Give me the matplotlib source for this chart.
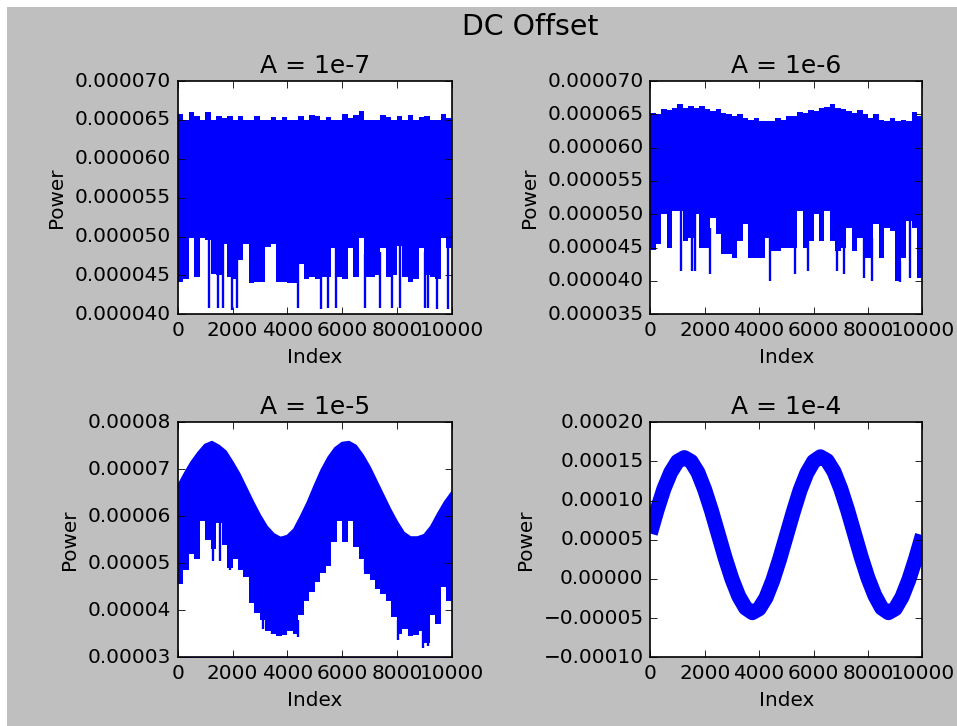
import matplotlib
matplotlib.use("Agg")
import matplotlib.pyplot as plt
import numpy as np
from matplotlib.patches import Rectangle

plt.style.use('classic')

# all power values are in units of the panel's scale (1e-5 or 1e-4)
titles = ["A = 1e-7", "A = 1e-6", "A = 1e-5", "A = 1e-4"]
seg = 200  # width (in index) of one step of the envelope arrays

# panel 1 : A = 1e-7  (units 1e-5)
upper1 = [6.57, 6.5, 6.6, 6.55, 6.5, 6.6, 6.5, 6.55, 6.53, 6.55,
          6.5, 6.55, 6.5, 6.5, 6.55, 6.5, 6.5, 6.54, 6.5, 6.54,
          6.5, 6.5, 6.55, 6.5, 6.56, 6.55, 6.5, 6.54, 6.5, 6.5,
          6.58, 6.52, 6.56, 6.62, 6.5, 6.5, 6.5, 6.56, 6.54, 6.5,
          6.55, 6.5, 6.56, 6.5, 6.54, 6.55, 6.5, 6.5, 6.58, 6.53]
lower1 = [4.42, 4.45, 4.98, 4.48, 4.98, 4.95, 4.52, 4.5, 4.9, 4.48,
          4.45, 4.7, 4.9, 4.4, 4.42, 4.42, 4.87, 4.9, 4.42, 4.42,
          4.4, 4.4, 4.65, 4.45, 4.48, 4.45, 4.48, 4.48, 4.85, 4.48,
          4.45, 4.85, 4.48, 4.98, 4.48, 4.48, 4.5, 4.85, 4.48, 4.5,
          4.88, 4.48, 4.42, 4.45, 4.85, 4.5, 4.48, 4.45, 4.98, 4.85]
spike1_idx = [1156, 1485, 1643, 1972, 2178, 4405, 5221, 5500, 5780,
              6840, 7387, 7813, 8117, 9030, 9152, 9456, 9882]
spike1_val = [4.08, 4.08, 4.08, 4.06, 4.08, 4.08, 4.07, 4.08, 4.08,
              4.08, 4.08, 4.08, 4.08, 4.08, 4.08, 4.07, 4.07]

# panel 2 : A = 1e-6  (units 1e-5)
upper2 = [6.52, 6.5, 6.58, 6.57, 6.6, 6.66, 6.6, 6.62, 6.6, 6.63,
          6.58, 6.55, 6.58, 6.52, 6.5, 6.47, 6.5, 6.45, 6.42, 6.45,
          6.4, 6.4, 6.4, 6.44, 6.42, 6.48, 6.47, 6.53, 6.52, 6.57,
          6.55, 6.6, 6.61, 6.66, 6.6, 6.58, 6.55, 6.52, 6.56, 6.5,
          6.45, 6.5, 6.42, 6.4, 6.44, 6.4, 6.42, 6.4, 6.53, 6.48]
lower2 = [4.46, 4.56, 5.0, 4.5, 5.05, 5.05, 4.6, 4.65, 5.0, 4.5,
          4.5, 4.95, 4.7, 4.4, 4.4, 4.35, 4.6, 4.85, 4.35, 4.35,
          4.35, 4.65, 4.45, 4.45, 4.5, 4.5, 4.5, 5.05, 4.5, 4.6,
          5.0, 4.6, 5.05, 4.6, 4.45, 4.5, 4.8, 4.45, 4.65, 4.35,
          4.35, 4.85, 4.35, 4.8, 4.75, 4.0, 4.35, 4.9, 4.8, 4.05]
spike2_idx = [1127, 1519, 1641, 2193, 4398, 5316, 5806, 6848, 7130,
              7865, 8134, 9175, 9555, 9910]
spike2_val = [4.15, 4.15, 4.15, 4.1, 4.0, 4.1, 4.15, 4.15, 4.1,
              4.05, 4.0, 3.98, 4.05, 4.05]

# panel 3 : A = 1e-5  (units 1e-5), upper edge read every 250 samples
upper3_idx = list(range(0, 10001, 250))
upper3 = [6.63, 6.9, 7.15, 7.35, 7.52, 7.58, 7.5, 7.38, 7.15, 6.9,
          6.6, 6.3, 6.02, 5.78, 5.62, 5.54, 5.58, 5.72, 6.0, 6.3,
          6.65, 6.98, 7.25, 7.45, 7.56, 7.58, 7.5, 7.3, 7.05, 6.75,
          6.45, 6.15, 5.88, 5.65, 5.55, 5.55, 5.6, 5.78, 6.05, 6.3, 6.5]
lower3 = [4.57, 4.86, 5.2, 5.1, 5.89, 5.5, 5.3, 5.85, 5.4, 4.9,
          5.1, 4.85, 4.7, 4.15, 3.95, 3.8, 3.55, 3.5, 3.46, 3.47,
          3.55, 3.5, 3.9, 4.2, 4.4, 4.6, 4.8, 4.95, 5.45, 5.9,
          5.45, 5.9, 5.35, 5.1, 4.78, 4.65, 4.45, 4.35, 4.2, 3.85,
          3.5, 3.6, 3.46, 3.48, 3.55, 3.3, 3.9, 3.7, 4.5, 4.2]
spike3_idx = [1300, 1545, 1910, 3130, 3430, 3675, 4380, 6840, 8056, 8970, 9150]
spike3_val = [5.05, 5.05, 4.85, 3.6, 3.5, 3.5, 3.43, 4.85, 3.36, 3.19, 3.25]

# panel 4 : A = 1e-4  (units 1e-4), centre of the thick trace every 250 samples
center4_idx = list(range(0, 10001, 250))
center4 = [0.58, 0.88, 1.15, 1.36, 1.50, 1.55, 1.50, 1.36, 1.14, 0.87,
           0.57, 0.27, 0.00, -0.22, -0.37, -0.43, -0.38, -0.24, -0.02, 0.25,
           0.55, 0.85, 1.13, 1.35, 1.50, 1.56, 1.51, 1.37, 1.15, 0.88,
           0.58, 0.28, 0.01, -0.21, -0.37, -0.43, -0.38, -0.23, -0.01, 0.26, 0.56]

ylims = [(4e-5, 7e-5), (3.5e-5, 7e-5), (3e-5, 8e-5), (-1e-4, 2e-4)]
ysteps = [5e-6, 5e-6, 1e-5, 5e-5]
positions = [[0.1857, 0.5671, 0.2863, 0.3213],
             [0.6795, 0.5671, 0.2844, 0.3213],
             [0.1857, 0.0946, 0.2863, 0.3237],
             [0.6795, 0.0946, 0.2844, 0.3237]]

fig = plt.figure(figsize=(9.57 / 1.2, 7.26 / 1.2), dpi=120, facecolor='white')
fig.patches.append(Rectangle((7 / 957, 0), 1, 1 - 7 / 726, transform=fig.transFigure,
                             facecolor='#bfbfbf', edgecolor='none', zorder=-10))

edges = np.arange(0, 10001, seg)


def step_fill(ax, vals, scale, bottom, color):
    v = np.append(vals, vals[-1]) * scale
    ax.fill_between(edges, bottom, v, step='post', color=color, linewidth=0, zorder=2)


def spikes(ax, idx, vals, floor, scale):
    tops = [floor[min(int(i // seg), len(floor) - 1)] + 0.3 for i in idx]
    ax.vlines(idx, np.array(vals) * scale, np.array(tops) * scale, color='b', linewidth=1.4, zorder=3)


for k in range(4):
    ax = fig.add_axes(positions[k])
    lo, hi = ylims[k]
    if k in (0, 1):
        upper = upper1 if k == 0 else upper2
        lower = lower1 if k == 0 else lower2
        step_fill(ax, upper, 1e-5, lo, 'b')
        step_fill(ax, lower, 1e-5, lo, 'white')
        if k == 0:
            spikes(ax, spike1_idx, spike1_val, lower1, 1e-5)
        else:
            spikes(ax, spike2_idx, spike2_val, lower2, 1e-5)
    elif k == 2:
        ax.fill_between(upper3_idx, lo, np.array(upper3) * 1e-5, color='b', linewidth=0, zorder=2)
        ax.plot(upper3_idx, np.array(upper3) * 1e-5, color='b', linewidth=1.5, zorder=2)
        step_fill(ax, lower3, 1e-5, lo, 'white')
        spikes(ax, spike3_idx, spike3_val, lower3, 1e-5)
    else:
        ax.plot(center4_idx, np.array(center4) * 1e-4, color='b', linewidth=9,
                solid_capstyle='butt', solid_joinstyle='round', zorder=2)
    ax.set_xlim(0, 10000)
    ax.set_ylim(lo, hi)
    ax.set_xticks(np.arange(0, 10001, 2000))
    ax.set_yticks(np.arange(lo, hi + ysteps[k] / 2, ysteps[k]))
    ax.set_title(titles[k], fontsize=15)
    ax.set_xlabel("Index", fontsize=12)
    ax.set_ylabel("Power", fontsize=12)

fig.text(0.5538, 1 - 27 / 726, "DC Offset", fontsize=17, ha='center', va='center')
fig.savefig('out.png', dpi=120, facecolor='white')
